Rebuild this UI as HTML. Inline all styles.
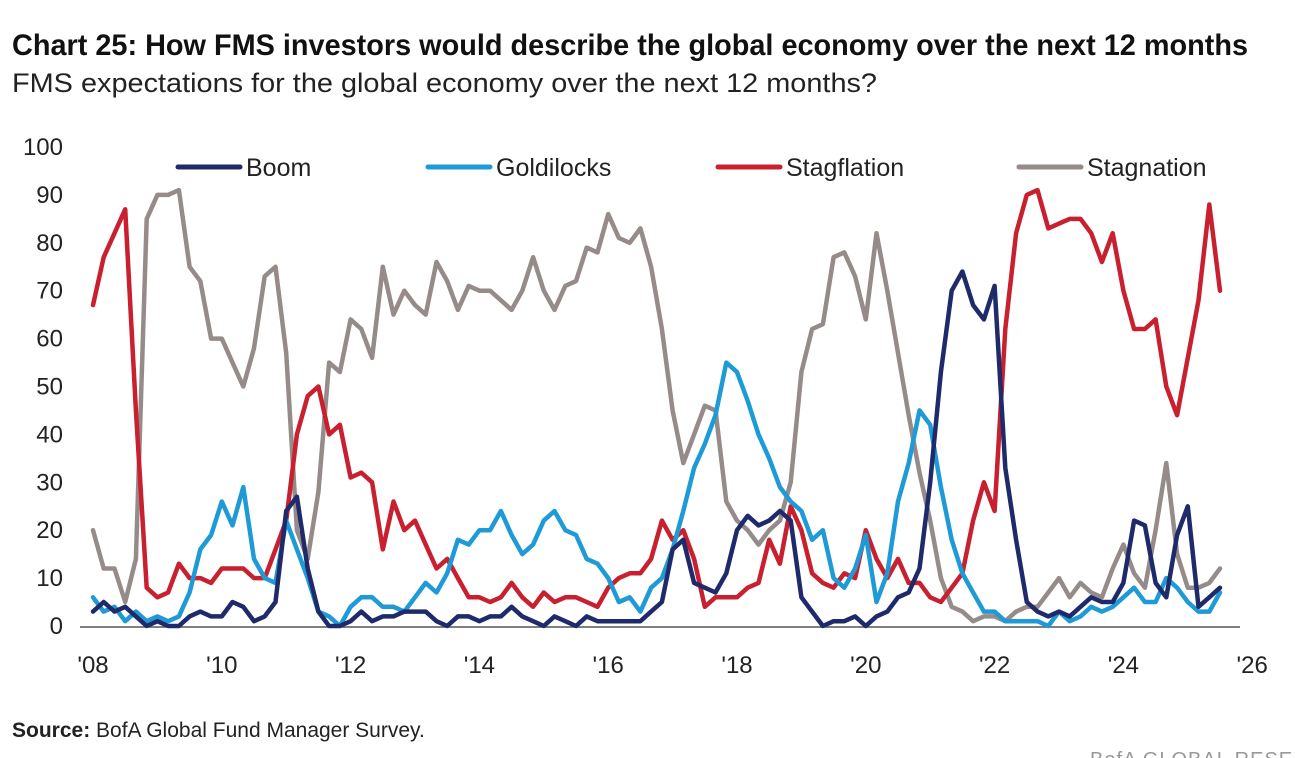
<!DOCTYPE html>
<html><head><meta charset="utf-8"><style>
html,body{margin:0;padding:0;background:#fff;}
svg{display:block;font-family:"Liberation Sans Narrow","Liberation Sans",sans-serif;}
</style></head><body>
<svg id="chart" width="1296" height="758" viewBox="0 0 1296 758" xmlns="http://www.w3.org/2000/svg">
<text x="12" y="55" font-size="30" font-weight="bold" fill="#111" textLength="1236" lengthAdjust="spacingAndGlyphs">Chart 25: How FMS investors would describe the global economy over the next 12 months</text>
<text x="12" y="92" font-size="27" fill="#222" textLength="865" lengthAdjust="spacingAndGlyphs">FMS expectations for the global economy over the next 12 months?</text>
<g id="yaxis"></g>
<g id="xaxis"></g>
<line x1="80" y1="627" x2="1240" y2="627" stroke="#555" stroke-width="1.5"/>
<g id="series"></g>
<g id="legend"></g>
<text x="12" y="737" font-size="21" fill="#222"><tspan font-weight="bold">Source:</tspan> BofA Global Fund Manager Survey.</text>
<text x="1090" y="766" font-size="20" fill="#999" letter-spacing="1">BofA GLOBAL RESEARCH</text>
</svg>
<script>
// month offsets from Jan 2008, every 2 months
const startYear = 2008;
const monthStep = 2;
const yTicks = [0,10,20,30,40,50,60,70,80,90,100];
const xTickYears = [2008,2010,2012,2014,2016,2018,2020,2022,2024,2026];
const xTickLabels = ["'08","'10","'12","'14","'16","'18","'20","'22","'24","'26"];
const seriesNames = ["Boom","Goldilocks","Stagflation","Stagnation"];
const boom = [3,5,3,4,2,0,1,0,0,2,3,2,2,5,4,1,2,5,24,27,12,3,0,0,1,3,1,2,2,3,3,3,1,0,2,2,1,2,2,4,2,1,0,2,1,0,2,1,1,1,1,1,3,5,16,18,9,8,7,11,20,23,21,22,24,22,6,3,0,1,1,2,0,2,3,6,7,12,30,53,70,74,67,64,71,33,18,5,3,2,3,2,4,6,5,5,9,22,21,9,6,19,25,4,6,8];
const goldilocks = [6,3,4,1,3,1,2,1,2,7,16,19,26,21,29,14,10,9,22,16,10,3,2,0,4,6,6,4,4,3,6,9,7,11,18,17,20,20,24,19,15,17,22,24,20,19,14,13,10,5,6,3,8,10,16,24,33,38,44,55,53,47,40,35,29,26,24,18,20,10,8,12,19,5,11,26,34,45,42,29,18,11,7,3,3,1,1,1,1,0,3,1,2,4,3,4,6,8,5,5,10,8,5,3,3,7];
const stagflation = [67,77,82,87,45,8,6,7,13,10,10,9,12,12,12,10,10,16,22,40,48,50,40,42,31,32,30,16,26,20,22,17,12,14,10,6,6,5,6,9,6,4,7,5,6,6,5,4,8,10,11,11,14,22,18,20,14,4,6,6,6,8,9,18,13,25,20,11,9,8,11,10,20,14,10,14,9,9,6,5,8,11,22,30,24,62,82,90,91,83,84,85,85,82,76,82,70,62,62,64,50,44,56,68,88,70];
const stagnation = [20,12,12,5,14,85,90,90,91,75,72,60,60,55,50,58,73,75,57,20,14,28,55,53,64,62,56,75,65,70,67,65,76,72,66,71,70,70,68,66,70,77,70,66,71,72,79,78,86,81,80,83,75,62,45,34,40,46,45,26,22,20,17,20,22,30,53,62,63,77,78,73,64,82,70,57,44,32,22,10,4,3,1,2,2,1,3,4,4,7,10,6,9,7,6,12,17,11,8,20,34,15,8,8,9,12];
const colors = ["#1f2a6b","#1e9bd7","#c8202f","#958c8a"];

const NS="http://www.w3.org/2000/svg";
const x0=93, pxPerYear=64.4, y0=626, pxPerUnit=4.79;
function xScale(year){return x0+(year-startYear)*pxPerYear;}
function yScale(v){return y0-v*pxPerUnit;}
function mk(tag){return document.createElementNS(NS,tag);}

const ya=document.getElementById('yaxis');
yTicks.forEach(t=>{
  const e=mk('text');
  
  
  e.setAttribute('x',63);e.setAttribute('y',yScale(t)+8);
  e.setAttribute('text-anchor','end');e.setAttribute('font-size','24');e.setAttribute('fill','#222');
  e.textContent=t;ya.appendChild(e);
});
const xa=document.getElementById('xaxis');
xTickYears.forEach((yr,i)=>{
  const e=mk('text');
  
  
  e.setAttribute('x',xScale(yr));e.setAttribute('y',673);
  e.setAttribute('text-anchor','middle');e.setAttribute('font-size','24');e.setAttribute('fill','#222');
  e.textContent=xTickLabels[i];xa.appendChild(e);
});

const sg=document.getElementById('series');
const allSeries=[stagnation,stagflation,goldilocks,boom];
const order=[3,2,1,0];
allSeries.forEach((vals,j)=>{
  const idx=order[j];
  const pts=vals.map((v,i)=>xScale(startYear+(i*monthStep)/12).toFixed(1)+','+yScale(v).toFixed(1)).join(' ');
  const p=mk('polyline');
  
  
  p.setAttribute('points',pts);p.setAttribute('fill','none');
  p.setAttribute('stroke',colors[idx]);p.setAttribute('stroke-width','4.5');
  p.setAttribute('stroke-linejoin','round');p.setAttribute('stroke-linecap','round');
  sg.appendChild(p);
});

const lg=document.getElementById('legend');
const legX=[178,428,718,1019];
seriesNames.forEach((n,i)=>{
  const l=mk('line');
  
  
  l.setAttribute('x1',legX[i]);l.setAttribute('x2',legX[i]+62);
  l.setAttribute('y1',167);l.setAttribute('y2',167);
  l.setAttribute('stroke',colors[i]);l.setAttribute('stroke-width','5');l.setAttribute('stroke-linecap','round');
  lg.appendChild(l);
  const t=mk('text');
  
  
  t.setAttribute('x',legX[i]+68);t.setAttribute('y',176);
  t.setAttribute('font-size','25');t.setAttribute('fill','#222');
  t.textContent=n;lg.appendChild(t);
});
</script>
</body></html>
